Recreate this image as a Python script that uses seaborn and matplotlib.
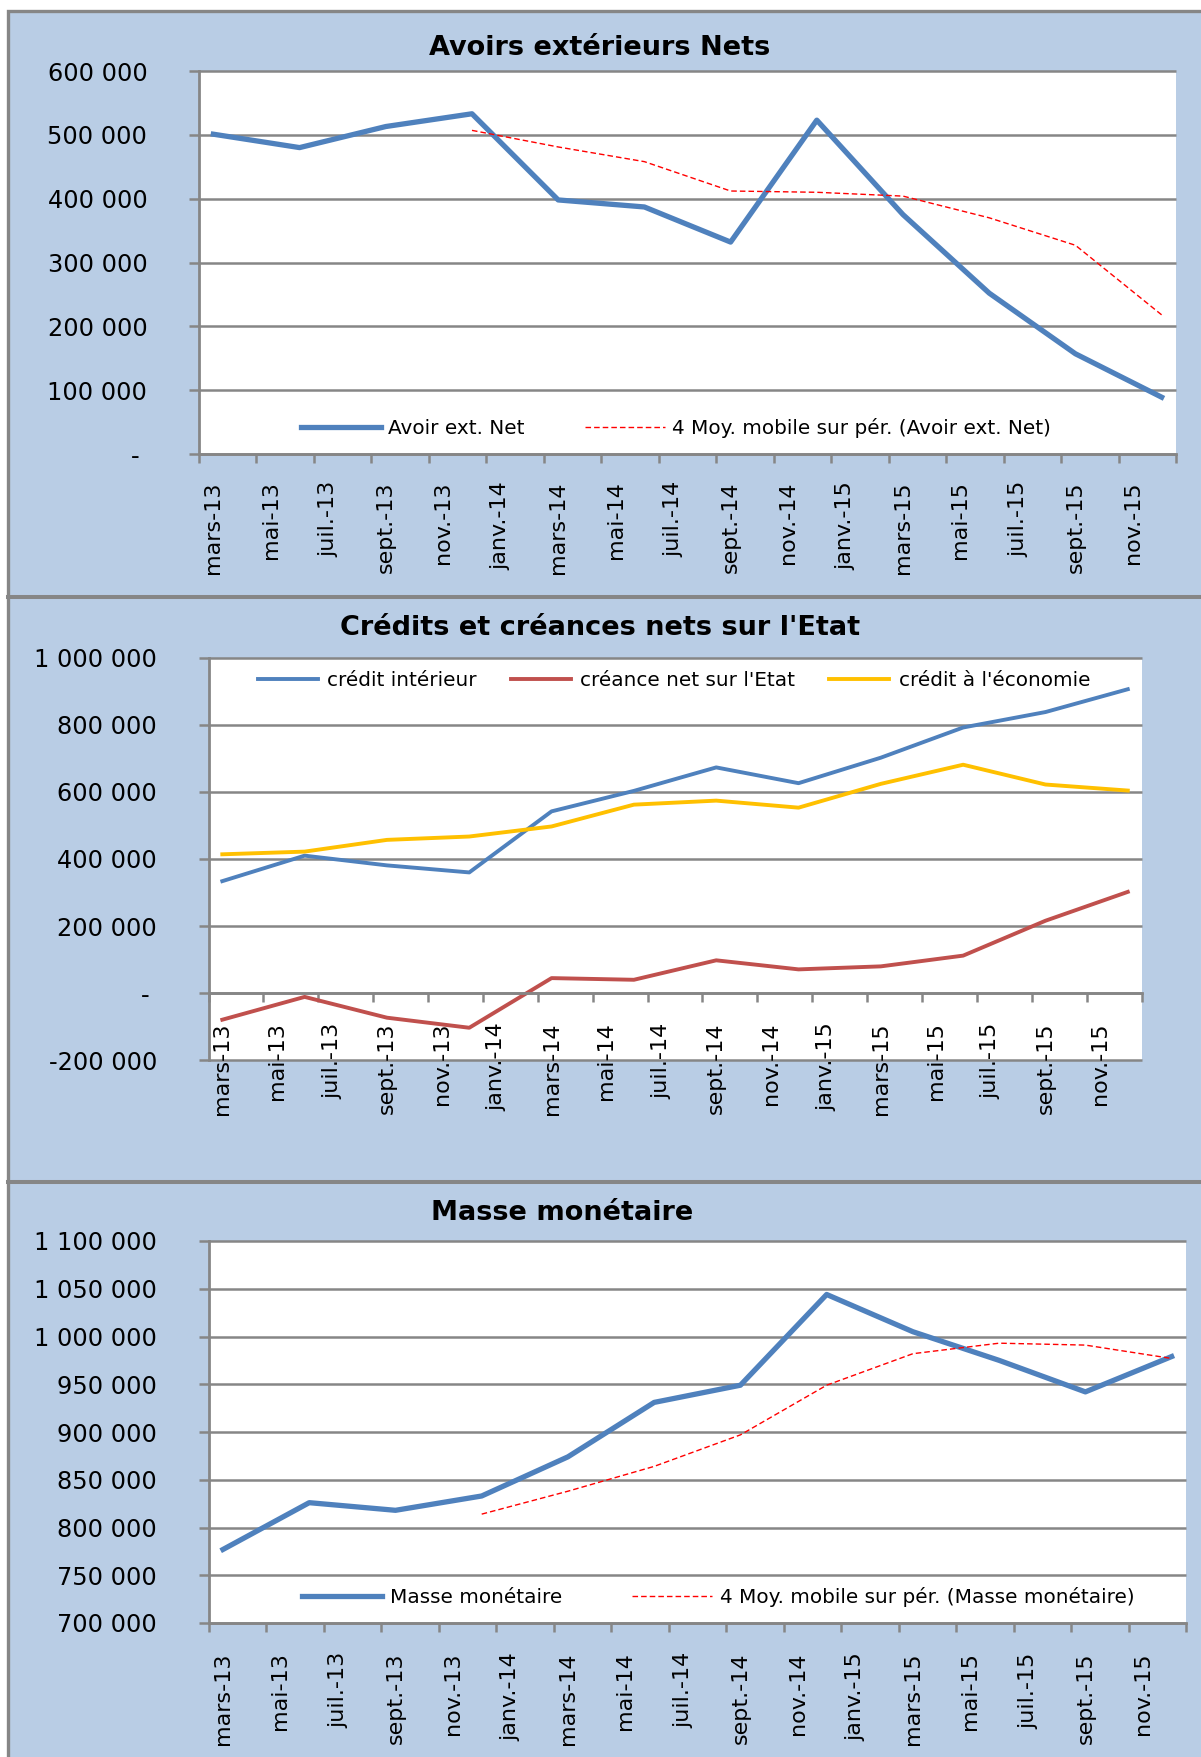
import numpy as np
import pandas as pd
import matplotlib
matplotlib.use("Agg")
import matplotlib.pyplot as plt
import seaborn as sns
from matplotlib.patches import Rectangle
from matplotlib.lines import Line2D

# figure size in pixels (dpi 100)
W, H = 1201, 1757

BLUE = "#4F81BD"
RED = "#C0504D"
YELLOW = "#FFC000"
MA_RED = "#FF0000"
PANEL_BG = "#B9CDE5"
GREY = "#868686"

# quarterly observations
dates = ["2013-03", "2013-06", "2013-09", "2013-12", "2014-03", "2014-06",
         "2014-09", "2014-12", "2015-03", "2015-06", "2015-09", "2015-12"]

month_labels = ["mars-13", "mai-13", "juil.-13", "sept.-13", "nov.-13", "janv.-14",
                "mars-14", "mai-14", "juil.-14", "sept.-14", "nov.-14", "janv.-15",
                "mars-15", "mai-15", "juil.-15", "sept.-15", "nov.-15"]

# Avoirs extérieurs nets
avoir_ext = [501000, 480000, 513000, 533000, 398000, 387000,
             332000, 523000, 375000, 252000, 157000, 89000]
avoir_ma = [np.nan, np.nan, np.nan, 507000, 481000, 458000,
            412000, 410000, 404000, 370000, 327000, 218000]

# Crédits et créances
credit_int = [334000, 410000, 381000, 360000, 542000, 603000,
              673000, 626000, 702000, 792000, 838000, 906000]
creance_etat = [-79000, -11000, -73000, -103000, 45000, 40000,
                98000, 71000, 80000, 112000, 216000, 302000]
credit_eco = [414000, 422000, 457000, 467000, 497000, 562000,
              574000, 553000, 624000, 681000, 622000, 604000]

# Masse monétaire
masse = [777000, 826000, 818000, 833000, 874000, 931000,
         949000, 1044000, 1005000, 975000, 942000, 979000]
masse_ma = [np.nan, np.nan, np.nan, 814000, 838000, 864000,
            897000, 949000, 982000, 993000, 991000, 977000]

plt.rcParams["font.family"] = ["DejaVu Sans"]

# month index counted from March 2013 (one slot per month on the date axis)
per = pd.PeriodIndex(dates, freq="M")
x_month = (per.year - 2013) * 12 + per.month - 3


def px_box(left, top, right, bottom):
    return [left / W, 1 - bottom / H, (right - left) / W, (bottom - top) / H]


def fmt_fr(v):
    if v == 0:
        return "- "
    return f"{int(v):,}".replace(",", " ")


def draw_series(ax, values, color, lw, dashed=False):
    df = pd.DataFrame({"mois": x_month, "valeur": values})
    kw = dict(linestyle=(0, (4, 2.2))) if dashed else {}
    sns.lineplot(data=df, x="mois", y="valeur", ax=ax, color=color, lw=lw,
                 estimator=None, sort=False, legend=False, **kw)


def style_axes(ax, ymin, ymax, step, label_pad, zero_axis=False):
    ax.set_facecolor("white")
    ax.set_xlim(-0.5, 33.5)
    ax.set_ylim(ymin, ymax)
    yticks = np.arange(ymin, ymax + step / 2, step)
    ax.set_yticks(yticks, [fmt_fr(v) for v in yticks])
    ax.hlines(yticks, -0.5, 33.5, colors=GREY, lw=1.8, zorder=0.8, clip_on=False)
    for side in ["top", "right"]:
        ax.spines[side].set_visible(False)
    for side in ["left", "bottom"]:
        ax.spines[side].set_color(GREY)
        ax.spines[side].set_linewidth(2.0)
    if zero_axis:
        ax.spines["bottom"].set_position(("data", 0))
    # tick marks every two months, labels centred in the month slot
    ax.set_xticks(np.arange(-0.5, 34, 2), [""] * 18)
    ax.set_xticks(np.arange(0, 33, 2), month_labels, minor=True)
    ax.tick_params(axis="x", which="major", length=6.5, width=1.8, color=GREY)
    ax.tick_params(axis="x", which="minor", length=0, pad=label_pad,
                   labelsize=16, labelrotation=90)
    ax.tick_params(axis="y", length=7.2, width=1.8, color=GREY, pad=30,
                   labelsize=17.3)
    ax.set_xlabel("")
    ax.set_ylabel("")


def add_legend(fig, ax, labels, cx, cy, hl, htp, cs):
    handles = ax.lines[:len(labels)]
    ax.legend(handles, labels, loc="center",
              bbox_to_anchor=(cx / W, 1 - cy / H), bbox_transform=fig.transFigure,
              ncol=len(labels), frameon=False, fontsize=14.4,
              handlelength=hl, handletextpad=htp, columnspacing=cs,
              borderpad=0, borderaxespad=0)


fig = plt.figure(figsize=(W / 100, H / 100), dpi=100)

# blue chart background with grey frame and separators
fig.add_artist(Rectangle((7.5 / W, -0.05), 2, 1.05 - 11.5 / H,
                         transform=fig.transFigure, facecolor=PANEL_BG,
                         edgecolor=GREY, lw=2.4, zorder=-10))
for y_sep in [597, 1181.5]:
    fig.add_artist(Line2D([7.5 / W, 1], [1 - y_sep / H] * 2,
                          transform=fig.transFigure, color=GREY, lw=2.9))

# --- Avoirs extérieurs Nets
ax1 = fig.add_axes(px_box(199, 71, 1176, 454))
draw_series(ax1, avoir_ext, BLUE, 3.8)
draw_series(ax1, avoir_ma, MA_RED, 1.0, dashed=True)
style_axes(ax1, 0, 600000, 100000, 19.5)
add_legend(fig, ax1, ["Avoir ext. Net", "4 Moy. mobile sur pér. (Avoir ext. Net)"],
           676, 428, 4.0, 0.38, 3.0)
fig.text(600 / W, 1 - 54.7 / H, "Avoirs extérieurs Nets", ha="center",
         va="baseline", fontsize=19.5, fontweight="bold")

# --- Crédits et créances nets sur l'Etat
ax2 = fig.add_axes(px_box(208.6, 657.7, 1141.5, 1060.3))
draw_series(ax2, credit_int, BLUE, 2.8)
draw_series(ax2, creance_etat, RED, 2.8)
draw_series(ax2, credit_eco, YELLOW, 2.8)
style_axes(ax2, -200000, 1000000, 200000, 21, zero_axis=True)
add_legend(fig, ax2, ["crédit intérieur", "créance net sur l'Etat", "crédit à l'économie"],
           674, 680.3, 3.0, 0.47, 1.7)
fig.text(600 / W, 1 - 635 / H, "Crédits et créances nets sur l'Etat", ha="center",
         va="baseline", fontsize=19.5, fontweight="bold")

# --- Masse monétaire
ax3 = fig.add_axes(px_box(208.6, 1241, 1186, 1623))
draw_series(ax3, masse, BLUE, 3.8)
draw_series(ax3, masse_ma, MA_RED, 1.0, dashed=True)
style_axes(ax3, 700000, 1100000, 50000, 21)
add_legend(fig, ax3, ["Masse monétaire", "4 Moy. mobile sur pér. (Masse monétaire)"],
           718, 1597, 4.0, 0.4, 3.5)
fig.text(562 / W, 1 - 1219.5 / H, "Masse monétaire", ha="center",
         va="baseline", fontsize=19.5, fontweight="bold")

fig.savefig("out.png", dpi=100)
plt.close(fig)
